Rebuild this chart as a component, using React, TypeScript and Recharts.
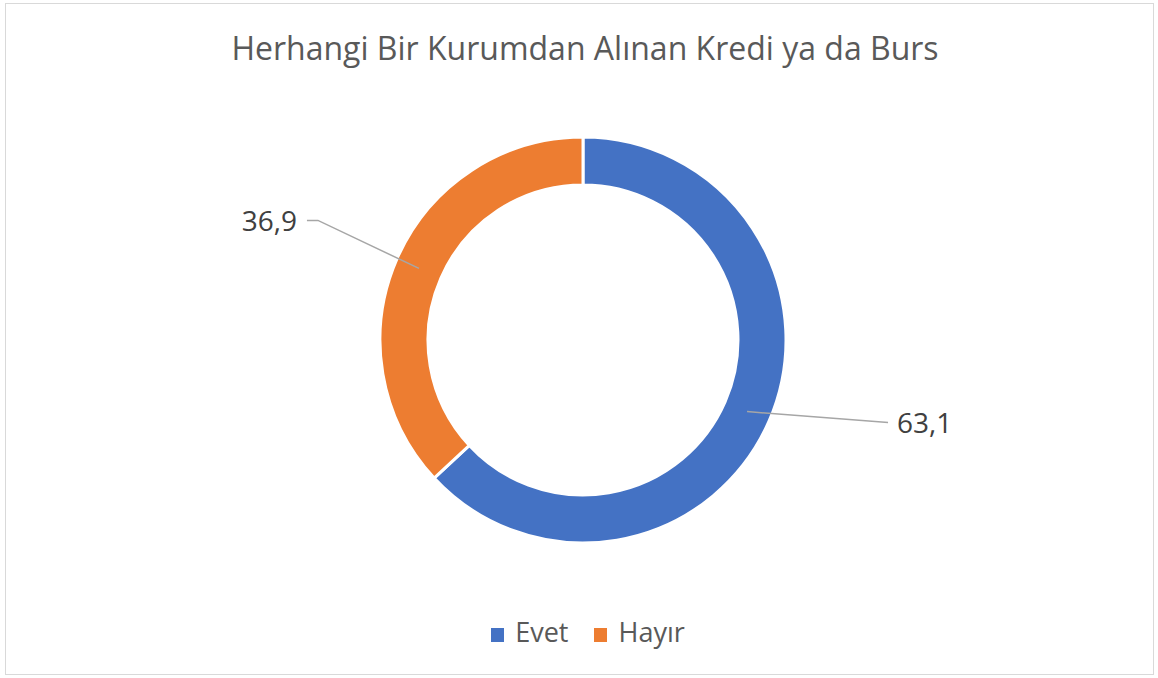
import React from 'react';
import { PieChart, Pie, Cell, Legend } from 'recharts';

const categories = ['Evet', 'Hayır'];
const values = [63.1, 36.9];
const valueLabels = ['63,1', '36,9'];
const colors = ['#4472C4', '#ED7D31'];
const title = 'Herhangi Bir Kurumdan Alınan Kredi ya da Burs';

const data = categories.map((name, i) => ({ name, value: values[i], label: valueLabels[i] }));

// leader elbow offsets from the ring mid point (style)
const LABEL_OFFSETS = [
  { dx: 141, dy: 11 },
  { dx: -101, dy: -48 },
];

const FONT = '"Open Sans", sans-serif';

const renderLabel = (props: any) => {
  const { cx, cy, midAngle, innerRadius, outerRadius, index } = props;
  const RAD = Math.PI / 180;
  const r = (innerRadius + outerRadius) / 2;
  const sx = cx + r * Math.cos(-midAngle * RAD);
  const sy = cy + r * Math.sin(-midAngle * RAD);
  const off = LABEL_OFFSETS[index];
  const ex = sx + off.dx;
  const ey = sy + off.dy;
  const right = off.dx > 0;
  const hx = right ? ex : ex - 11;
  const tx = right ? hx + 9 : hx - 10;
  return (
    <g>
      <polyline
        points={`${sx},${sy} ${ex},${ey} ${hx},${ey}`}
        fill="none"
        stroke="#A6A6A6"
        strokeWidth={1.5}
      />
      <text
        x={tx}
        y={ey + 10.5}
        textAnchor={right ? 'start' : 'end'}
        fill="#404040"
        fontSize={28}
        fontFamily={FONT}
      >
        {data[index].label}
      </text>
    </g>
  );
};

const renderLegend = () => (
  <div style={{ display: 'flex', justifyContent: 'center', alignItems: 'flex-start', fontFamily: FONT, fontSize: 27, lineHeight: '27px', color: '#595959' }}>
    {data.map((d, i) => (
      <div key={d.name} style={{ display: 'flex', alignItems: 'flex-start', marginLeft: i === 0 ? 0 : 26 }}>
        <span style={{ display: 'inline-block', width: 13, height: 14, marginTop: 10, background: colors[i], marginRight: 11 }} />
        <span>{d.name}</span>
      </div>
    ))}
  </div>
);

export default function App() {
  return (
    <div style={{ position: 'absolute', left: 0, top: 0, width: 1158, height: 678, background: '#fff' }}>
      <div
        style={{
          position: 'absolute',
          left: 5,
          top: 3,
          width: 1149,
          height: 672,
          border: '1px solid #D9D9D9',
          boxSizing: 'border-box',
        }}
      />
      <svg style={{ position: 'absolute', left: 0, top: 0 }} width={1158} height={100}>
        <text x={585} y={60} textAnchor="middle" fontFamily={FONT} fontSize={32} fill="#595959">
          {title}
        </text>
      </svg>
      <div style={{ position: 'absolute', left: 0, top: 0 }}>
        <PieChart width={1158} height={678} margin={{ top: 0, right: 0, bottom: 0, left: 0 }}>
          <Pie
            data={data}
            dataKey="value"
            nameKey="name"
            cx={583}
            cy={340}
            innerRadius={155}
            outerRadius={203}
            startAngle={90}
            endAngle={-270}
            stroke="#FFFFFF"
            strokeWidth={3}
            label={renderLabel}
            labelLine={false}
            isAnimationActive={false}
          >
            {data.map((d, i) => (
              <Cell key={d.name} fill={colors[i]} />
            ))}
          </Pie>
          <Legend
            content={renderLegend}
            wrapperStyle={{ left: 0, top: 618, width: 1176 }}
          />
        </PieChart>
      </div>
    </div>
  );
}
